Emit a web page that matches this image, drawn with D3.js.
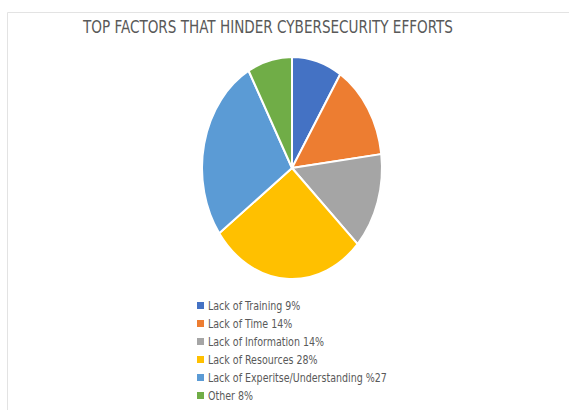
<!doctype html>
<html lang="en">
  <head>
    <meta charset="UTF-8" />
    <title>Top Factors That Hinder Cybersecurity Efforts</title>
    <style>
      body { margin: 0; background: #fff; }
      svg { display: block; font-family: "DejaVu Sans Condensed", "DejaVu Sans", sans-serif; font-stretch: condensed; }
      .title { fill: #595959; font-size: 17px; }
      .legend text { fill: #595959; font-size: 12px; }
    </style>
  </head>
  <body>
    <div id="chart"></div>
    <script src="https://d3js.org/d3.v7.min.js"></script>
    <script>
      // chart data
      const categories = ['Lack of Training', 'Lack of Time', 'Lack of Information', 'Lack of Resources', 'Lack of Experitse/Understanding', 'Other'];
      const values = [9, 14, 14, 28, 27, 8];
      const legendLabels = ['Lack of Training 9%', 'Lack of Time 14%', 'Lack of Information 14%', 'Lack of Resources 28%', 'Lack of Experitse/Understanding %27', 'Other 8%'];
      const colors = ['#4472c4', '#ed7d31', '#a5a5a5', '#ffc000', '#5b9bd5', '#70ad47'];

      const width = 569, height = 410;
      const svg = d3.select('#chart').append('svg').attr('width', width).attr('height', height);

      // chart area frame (only top and left edges visible)
      svg.append('path')
        .attr('d', 'M7.5,' + height + 'V12.5H' + width)
        .attr('fill', 'none')
        .attr('stroke', '#e3e3e3');

      svg.append('text')
        .attr('class', 'title')
        .attr('x', 268)
        .attr('y', 33)
        .attr('text-anchor', 'middle')
        .attr('textLength', 370)
        .attr('lengthAdjust', 'spacingAndGlyphs')
        .text('TOP FACTORS THAT HINDER CYBERSECURITY EFFORTS');

      // pie is drawn as a circle and stretched into an ellipse
      const cx = 292, cy = 168, rx = 90, ry = 111;
      const pie = d3.pie().sort(null).value((d) => d);
      const arc = d3.arc().innerRadius(0).outerRadius(1);

      const g = svg.append('g').attr('transform', `translate(${cx},${cy}) scale(${rx},${ry})`);
      g.selectAll('path')
        .data(pie(values))
        .enter()
        .append('path')
        .attr('d', arc)
        .attr('fill', (d, i) => colors[i])
        .attr('stroke', '#fff')
        .attr('stroke-width', 2)
        .attr('vector-effect', 'non-scaling-stroke');

      const y = d3.scaleBand().domain(categories).range([297, 405]);
      const legend = svg.append('g').attr('class', 'legend')
        .selectAll('g')
        .data(categories)
        .enter()
        .append('g')
        .attr('transform', (d) => `translate(197,${y(d) + y.bandwidth() / 2})`);

      legend.append('rect').attr('x', 0).attr('y', -4).attr('width', 7).attr('height', 7)
        .attr('fill', (d, i) => colors[i]);
      // narrow the text a bit, the original uses a condensed face
      legend.append('text')
        .attr('transform', 'translate(11,4) scale(0.88,1)')
        .text((d, i) => legendLabels[i]);
    </script>
  </body>
</html>
